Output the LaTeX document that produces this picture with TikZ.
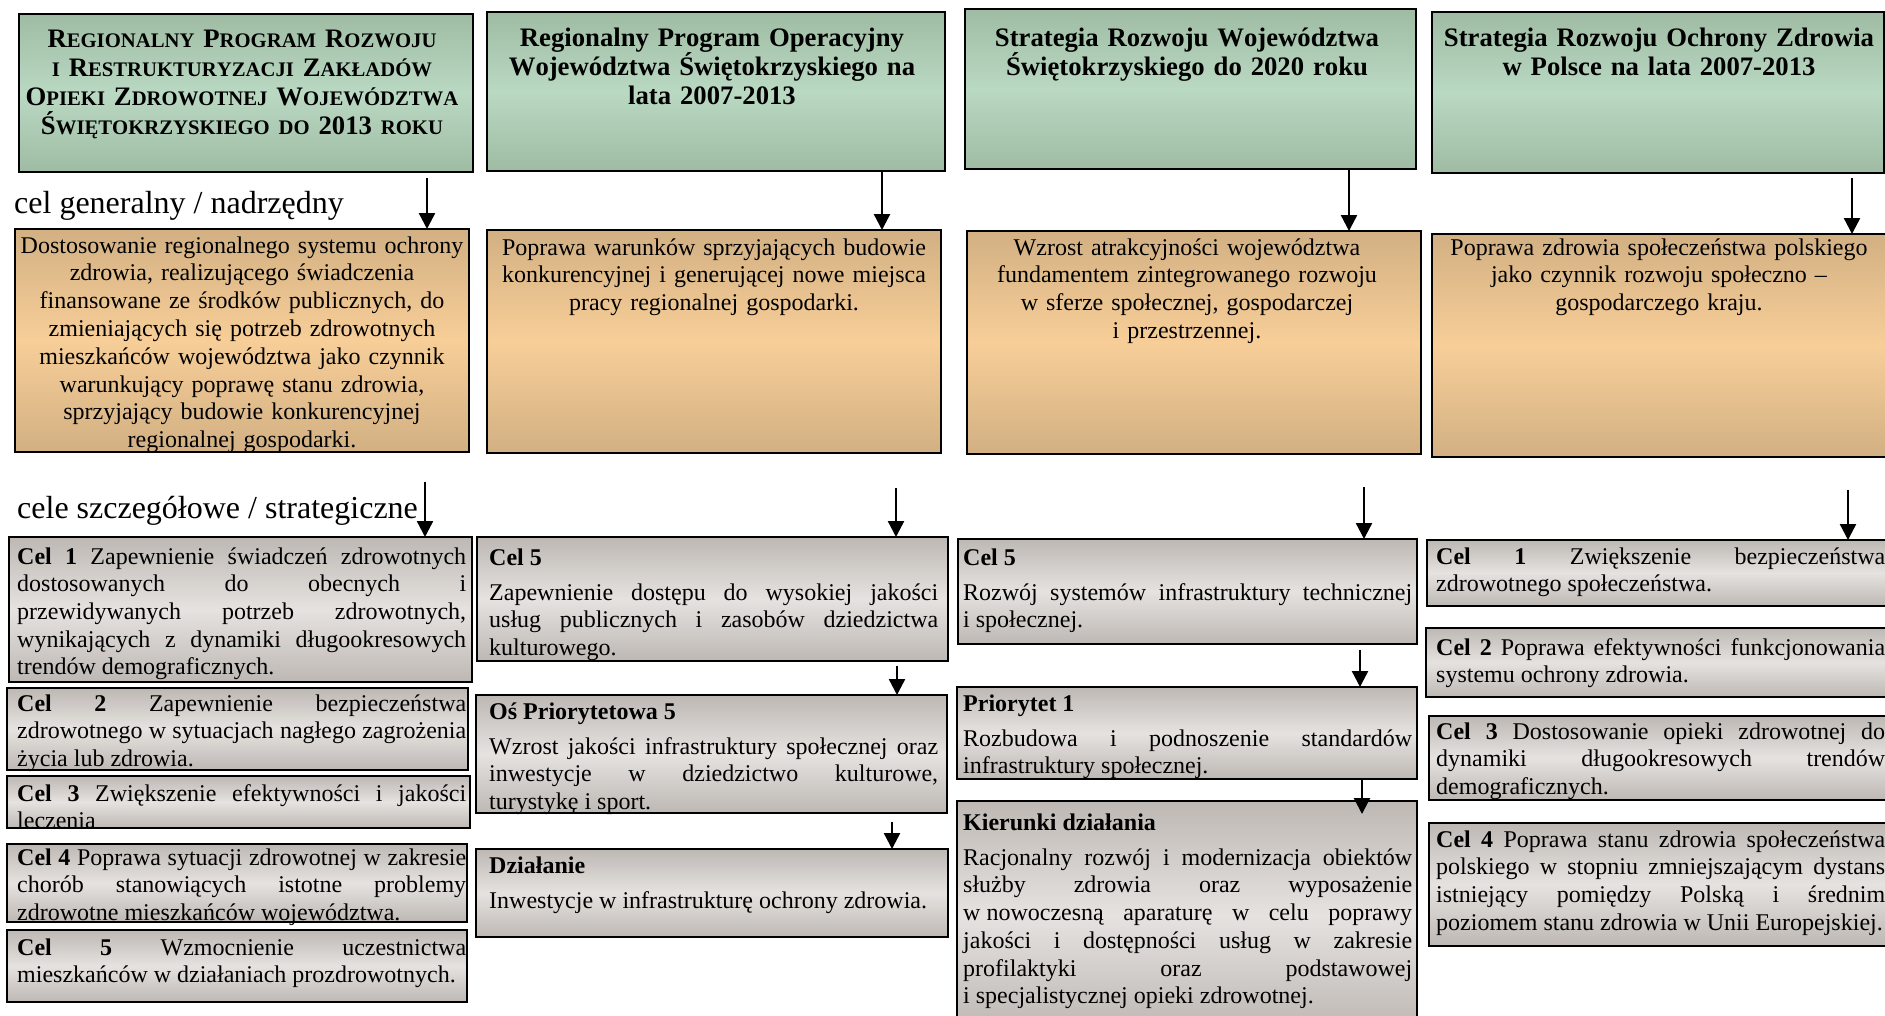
\documentclass[tikz,border=0pt]{standalone}
\usepackage{fontspec}
\setmainfont{Liberation Serif}[Kerning=Off,Ligatures=NoCommon]
\usetikzlibrary{arrows.meta}
\definecolor{grnE}{HTML}{9FBBA4}
\definecolor{grnM}{HTML}{BAD9C2}
\definecolor{gldE}{HTML}{D2B083}
\definecolor{gldM}{HTML}{F7CE98}
\definecolor{gryE}{HTML}{BDB8B4}
\definecolor{gryM}{HTML}{E6E2DF}
\newcommand\scA{\fontsize{20.7}{29}\selectfont}
\newcommand\bxx[6]{\node[#1, minimum width={#4-#2}, minimum height={#5-#3}] (#6) at (#2,#3) {};}
\tolerance=10000
\hyphenpenalty=10000
\exhyphenpenalty=10000
\hbadness=10000
\tikzset{
  box/.style={draw=black, line width=2.8pt, rectangle, inner sep=0pt, outer sep=0pt, anchor=north west},
  hdr/.style={box, top color=grnE, bottom color=grnE, middle color=grnM},
  gld/.style={box, top color=gldE, bottom color=gldE, middle color=gldM},
  gry/.style={box, top color=gryE, bottom color=gryE, middle color=gryM},
  htxt/.style={inner sep=0pt, anchor=base, align=center, text width=470pt, font=\fontsize{26.7}{29}\selectfont\bfseries},
  gtxt/.style={inner sep=0pt, anchor=base, align=center, text width=470pt, font=\fontsize{24}{27.8}\selectfont},
  btxt/.style={inner sep=0pt, anchor=base west, align=justify, text width=449pt, font=\fontsize{24}{27.7}\selectfont},
  lbl/.style={inner sep=0pt, anchor=base west, font=\fontsize{32}{36}\selectfont},
  arr/.style={line width=2.4pt, -{Triangle[width=16pt,length=16pt]}},
}
\begin{document}
\begin{tikzpicture}[x=1pt,y=-1pt]
\useasboundingbox (0,0) rectangle (1885,1015);
\fill[white] (0,0) rectangle (1885,1015);
\begin{scope}
\clip (0,0) rectangle (1885,1015);
% headers
\bxx{hdr}{19}{14}{473}{172}{h1}
\bxx{hdr}{487}{12}{945}{171}{h2}
\bxx{hdr}{965}{9}{1416}{169}{h3}
\bxx{hdr}{1432}{12}{1884}{173}{h4}
\node[htxt] (h1t) at (242,47) {R{\scA EGIONALNY} P{\scA ROGRAM} R{\scA OZWOJU}\\{\scA I} R{\scA ESTRUKTURYZACJI} Z{\scA AKŁADÓW}\\O{\scA PIEKI} Z{\scA DROWOTNEJ} W{\scA OJEWÓDZTWA}\\Ś{\scA WIĘTOKRZYSKIEGO DO} 2013 {\scA ROKU}};
\node[htxt] (h2t) at (712,46) {Regionalny Program Operacyjny\\Województwa Świętokrzyskiego na\\lata 2007-2013};
\node[htxt] (h3t) at (1187,46) {Strategia Rozwoju Województwa\\Świętokrzyskiego do 2020 roku};
\node[htxt] (h4t) at (1659,46) {Strategia Rozwoju Ochrony Zdrowia\\w Polsce na lata 2007-2013};
% labels
\node[lbl] (l1) at (14,213) {cel generalny / nadrzędny};
\node[lbl] (l2) at (17,518) {cele szczegółowe / strategiczne};
% gold
\bxx{gld}{15}{229}{469}{452}{g1}
\bxx{gld}{487}{230}{941}{453}{g2}
\bxx{gld}{967}{231}{1421}{454}{g3}
\bxx{gld}{1432}{234}{1886}{457}{g4}
\node[gtxt] (g1t) at (242,253) {Dostosowanie regionalnego systemu ochrony\\zdrowia, realizującego świadczenia\\finansowane ze środków publicznych, do\\zmieniających się potrzeb zdrowotnych\\mieszkańców województwa jako czynnik\\warunkujący poprawę stanu zdrowia,\\sprzyjający budowie konkurencyjnej\\regionalnej gospodarki.};
\node[gtxt] (g2t) at (714,255) {Poprawa warunków sprzyjających budowie\\konkurencyjnej i generującej nowe miejsca\\pracy regionalnej gospodarki.};
\node[gtxt] (g3t) at (1187,255) {Wzrost atrakcyjności województwa\\fundamentem zintegrowanego rozwoju\\w sferze społecznej, gospodarczej\\i przestrzennej.};
\node[gtxt] (g4t) at (1659,255) {Poprawa zdrowia społeczeństwa polskiego\\jako czynnik rozwoju społeczno –\\gospodarczego kraju.};
% column 1
\bxx{gry}{9}{537}{472}{682}{c11}
\bxx{gry}{7}{688}{468}{770}{c12}
\bxx{gry}{7}{776}{470}{828}{c13}
\bxx{gry}{7}{844}{467}{922}{c14}
\bxx{gry}{7}{930}{467}{1002}{c15}
\node[btxt] (c11t) at (17,564) {\textbf{Cel 1} Zapewnienie świadczeń zdrowotnych\linebreak dostosowanych do obecnych i\linebreak przewidywanych potrzeb zdrowotnych,\linebreak wynikających z dynamiki długookresowych\linebreak trendów demograficznych.};
\node[btxt] (c12t) at (17,711) {\textbf{Cel 2} Zapewnienie bezpieczeństwa\linebreak zdrowotnego w sytuacjach nagłego zagrożenia\linebreak życia lub zdrowia.};
\node[btxt] (c13t) at (17,801) {\textbf{Cel 3} Zwiększenie efektywności i jakości\linebreak leczenia};
\node[btxt] (c14t) at (17,865) {\textbf{Cel 4} Poprawa sytuacji zdrowotnej w zakresie\linebreak chorób stanowiących istotne problemy\linebreak zdrowotne mieszkańców województwa.};
\node[btxt] (c15t) at (17,955) {\textbf{Cel 5} Wzmocnienie uczestnictwa\linebreak mieszkańców w działaniach prozdrowotnych.};
% column 2
\bxx{gry}{477}{537}{948}{661}{c25}
\bxx{gry}{476}{695}{947}{813}{c2o}
\bxx{gry}{476}{849}{948}{937}{c2d}
\node[btxt] (c25t) at (489,565) {\textbf{Cel 5}\par\vspace{7.5pt}Zapewnienie dostępu do wysokiej jakości\linebreak usług publicznych i zasobów dziedzictwa\linebreak kulturowego.};
\node[btxt] (c2ot) at (489,719) {\textbf{Oś Priorytetowa 5}\par\vspace{7.5pt}Wzrost jakości infrastruktury społecznej oraz\linebreak inwestycje w dziedzictwo kulturowe,\linebreak turystykę i sport.};
\node[btxt] (c2dt) at (489,873) {\textbf{Działanie}\par\vspace{7.5pt}Inwestycje w infrastrukturę ochrony zdrowia.};
% column 3
\bxx{gry}{958}{539}{1417}{644}{c35}
\bxx{gry}{957}{687}{1417}{779}{c3p}
\bxx{gry}{957}{801}{1417}{1030}{c3k}
\node[btxt] (c35t) at (963,565) {\textbf{Cel 5}\par\vspace{7.5pt}Rozwój systemów infrastruktury technicznej\linebreak i społecznej.};
\node[btxt] (c3pt) at (963,711) {\textbf{Priorytet 1}\par\vspace{7.5pt}Rozbudowa i podnoszenie standardów\linebreak infrastruktury społecznej.};
\node[btxt] (c3kt) at (963,830) {\textbf{Kierunki działania}\par\vspace{7.5pt}Racjonalny rozwój i modernizacja obiektów\linebreak służby zdrowia oraz wyposażenie\linebreak w\kern6pt nowoczesną aparaturę w celu poprawy\linebreak jakości i dostępności usług w zakresie\linebreak profilaktyki oraz podstawowej\linebreak i specjalistycznej opieki zdrowotnej.};
% column 4
\bxx{gry}{1427}{540}{1895}{606}{c41}
\bxx{gry}{1426}{628}{1895}{697}{c42}
\bxx{gry}{1429}{716}{1895}{800}{c43}
\bxx{gry}{1429}{823}{1895}{946}{c44}
\node[btxt] (c41t) at (1436,564) {\textbf{Cel 1} Zwiększenie bezpieczeństwa\linebreak zdrowotnego społeczeństwa.};
\node[btxt] (c42t) at (1436,655) {\textbf{Cel 2} Poprawa efektywności funkcjonowania\linebreak systemu ochrony zdrowia.};
\node[btxt] (c43t) at (1436,739) {\textbf{Cel 3} Dostosowanie opieki zdrowotnej do\linebreak dynamiki długookresowych trendów\linebreak demograficznych.};
\node[btxt] (c44t) at (1436,847) {\textbf{Cel 4} Poprawa stanu zdrowia społeczeństwa\linebreak polskiego w stopniu zmniejszającym dystans\linebreak istniejący pomiędzy Polską i średnim\linebreak poziomem stanu zdrowia w Unii Europejskiej.};
% arrows
\coordinate (a11) at (427,178);
\coordinate (a12) at (425,482);
\coordinate (x21) at (882,0);
\coordinate (a22) at (896,488);
\coordinate (a23) at (897,666);
\coordinate (a24) at (892,822);
\coordinate (x31) at (1349,0);
\coordinate (a32) at (1364,487);
\coordinate (a33) at (1360,650);
\coordinate (k34) at (1362,814);
\coordinate (a41) at (1852,178);
\coordinate (a42) at (1848,490);
\draw[arr] (a11) -- (a11 |- g1.north);
\draw[arr] (a12) -- (a12 |- c11.north);
\draw[arr] (h2.south -| x21) -- (g2.north -| x21);
\draw[arr] (a22) -- (a22 |- c25.north);
\draw[arr] (a23) -- (a23 |- c2o.north);
\draw[arr] (a24) -- (a24 |- c2d.north);
\draw[arr] (h3.south -| x31) -- (g3.north -| x31);
\draw[arr] (a32) -- (a32 |- c35.north);
\draw[arr] (a33) -- (a33 |- c3p.north);
\draw[arr] (c3p.south -| k34) -- (k34);
\draw[arr] (a41) -- (a41 |- g4.north);
\draw[arr] (a42) -- (a42 |- c41.north);
\end{scope}
\end{tikzpicture}
\end{document}
